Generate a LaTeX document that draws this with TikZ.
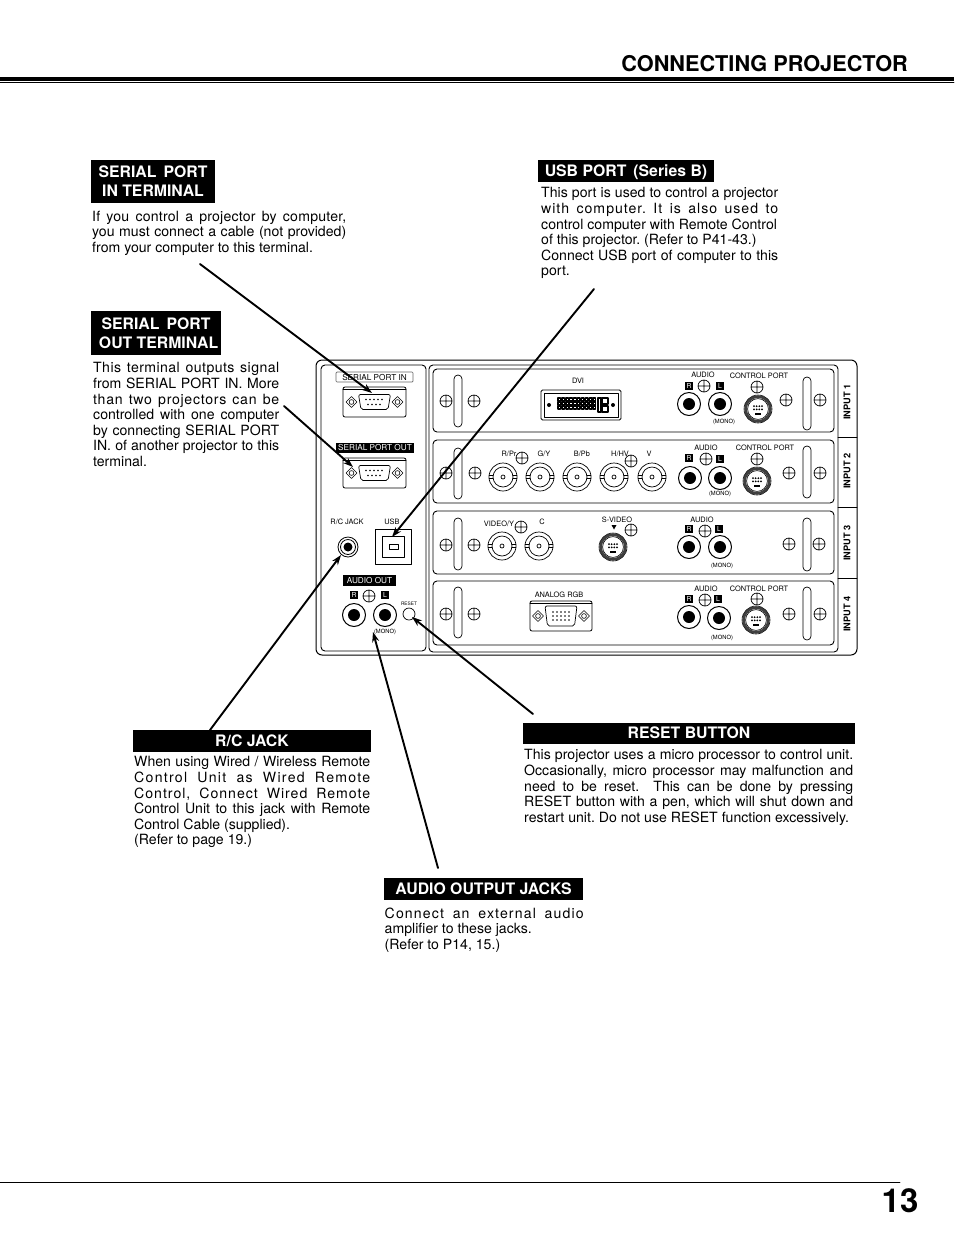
\documentclass[tikz,border=0pt]{standalone}
\usepackage{fontspec}
\setmainfont{TeX Gyre Heros}
\usetikzlibrary{arrows.meta}
\tolerance=10000
\frenchspacing
\newcommand{\spc}[2]{{\addfontfeature{LetterSpace=#1}#2}}
\newcommand{\fsize}[2]{\fontsize{#1}{#2}\selectfont}
\tikzset{
  tag/.style={fill=black,text=white,font=\bfseries\fsize{15.8}{19},align=center,inner sep=0pt},
  body/.style={anchor=north west,inner sep=0pt,font=\fsize{14.1}{15.6},align=justify},
  pointer/.style={line width=1.9pt,-{Stealth[length=10pt,width=7pt]}},
  small/.style={inner sep=0pt,font=\fsize{7.4}{8}},
  portlab/.style={inner sep=0pt,font=\fsize{8.2}{9}},
  tiny/.style={inner sep=0pt,font=\fsize{5.8}{6}},
  panel/.style={line width=0.9pt,rounded corners=4pt},
}
% panel parts, all in page pixels
\newcommand{\screw}[2]{\draw[line width=0.7pt] (#1,#2) circle (6) (#1-6,#2)--(#1+6,#2) (#1,#2-6)--(#1,#2+6);}
\newcommand{\slot}[4]{\draw[line width=0.7pt,rounded corners=3.9pt] (#1,#2) rectangle (#3,#4);}
\newcommand{\rca}[2]{\draw[line width=1pt] (#1,#2) circle (11.5); \fill (#1,#2) circle (6);}
\newcommand{\bnc}[2]{\draw[line width=0.7pt] (#1,#2) circle (14) (#1,#2) circle (10) (#1,#2) circle (2);
  \draw[line width=0.7pt] (#1-14,#2-1.5)--(#1-10,#2-1.5) (#1-14,#2+1.5)--(#1-10,#2+1.5) (#1+10,#2-1.5)--(#1+14,#2-1.5) (#1+10,#2+1.5)--(#1+14,#2+1.5);}
\newcommand{\din}[2]{\draw[line width=2.6pt,black!75] (#1,#2) circle (12.4);
  \draw[line width=0.6pt] (#1,#2) circle (14) (#1,#2) circle (10.4);
  \foreach \dx in {-4,-1.3,1.3,4}{\fill (#1+\dx,#2-2.8) circle (1) (#1+\dx,#2+0.4) circle (1);}
  \fill (#1-3,#2+3.8) rectangle (#1+3,#2+6);}
\newcommand{\dsub}[5]{% x0 y0 x1 y1 half height of shell
  \draw[line width=0.8pt,rounded corners=2pt] (#1,#2) rectangle (#3,#4);
  \draw[line width=0.7pt] (#1,#2+2.5)--(#3,#2+2.5);
  \draw[line width=0.7pt,rounded corners=2pt] ({(#1+#3)/2-16},{(#2+#4)/2-#5})--({(#1+#3)/2+16},{(#2+#4)/2-#5})--({(#1+#3)/2+13.5},{(#2+#4)/2+#5})--({(#1+#3)/2-13.5},{(#2+#4)/2+#5})--cycle;
  \foreach \sx in {-1,1}{
    \draw[line width=0.6pt] ({(#1+#3)/2+\sx*23},{(#2+#4)/2}) +(-5.5,0)--+(0,-5.5)--+(5.5,0)--+(0,5.5)--cycle;
    \draw[line width=0.6pt] ({(#1+#3)/2+\sx*23},{(#2+#4)/2}) circle (2.4);}}

\begin{document}
\begin{tikzpicture}[x=1pt,y=-1pt,line cap=round,line join=round]
\useasboundingbox (0,0) rectangle (954,1235);

% header and footer
\node[anchor=east,inner sep=0pt,font=\bfseries\fsize{21.7}{25}] (title) at (908,64) {CONNECTING PROJECTOR};
\fill (0,76.5) rectangle (954,80.5);
\draw[line width=0.7pt] (0,82.5)--(954,82.5);
\draw[line width=0.7pt] (0,1182)--(900,1182);
\node[inner sep=0pt,font=\bfseries\fsize{33}{35}] (pagenum) at (900,1201) {13};

% black headings
\node[tag,minimum width=124pt,minimum height=43pt] (serialin) at (153,181.5) {SERIAL\, PORT\\IN TERMINAL};
\node[tag,minimum width=176pt,minimum height=22pt,text height=11.5pt,text depth=0pt] (usbport) at (626,171) {USB PORT\, (Series B)};
\node[tag,minimum width=130pt,minimum height=44pt] (serialout) at (156,333) {SERIAL\, PORT\\\,\,OUT TERMINAL};
\node[tag,minimum width=238pt,minimum height=22pt] (rcjack) at (252,741) {R/C JACK};
\node[tag,minimum width=332pt,minimum height=21pt] (resetbtn) at (689,733) {RESET BUTTON};
\node[tag,minimum width=199pt,minimum height=22pt] (audiojacks) at (483.5,889) {AUDIO OUTPUT JACKS};

% texts
\node[body,text width=254pt] (serialintxt) at (92,210.7) {\spc{1.5}{If you control a projector by computer,}\linebreak you must connect a cable (not provided)\linebreak from your computer to this terminal.};
\node[body,text width=237pt] (usbtxt) at (541,187.5) {This port is used to control a projector\linebreak \spc{7}{with computer. It is also used to}\linebreak control computer with Remote Control\\of this projector. (Refer to P41-43.)\\Connect USB port of computer to this\linebreak port.};
\node[body,text width=186pt] (serialouttxt) at (93,362.5) {\spc{3}{This terminal outputs signal}\linebreak from SERIAL PORT IN. More\linebreak \spc{5}{than two projectors can be}\linebreak controlled with one computer\linebreak by connecting SERIAL PORT\linebreak IN. of another projector to this\linebreak terminal.};
\node[body,text width=236pt] (rctxt) at (134,756.5) {When using Wired / Wireless Remote\linebreak \spc{9}{Control Unit as Wired Remote}\linebreak \spc{7}{Control, Connect Wired Remote}\linebreak Control Unit to this jack with Remote\linebreak Control Cable (supplied).\\(Refer to page 19.)};
\node[body,text width=329pt] (resettxt) at (524,749.5) {This projector uses a micro processor to control unit.\linebreak Occasionally, micro processor may malfunction and\linebreak need to be reset. \ This can be done by pressing\linebreak RESET button with a pen, which will shut down and\linebreak restart unit. Do not use RESET function excessively.};
\node[body,text width=199pt] (audiotxt) at (384.5,907.5) {\spc{8}{Connect an external audio}\linebreak amplifier to these jacks.\\(Refer to P14, 15.)};

% projector outline
\draw[line width=1pt,rounded corners=6pt] (316,360) rectangle (857,655);
\draw[panel] (321,365) rectangle (426,651);
\draw[panel] (429,365) rectangle (838,652);
\foreach \ya/\yb in {369/432,440/503,511/574,581/645}{
  \draw[panel] (433,\ya) rectangle (834,\yb);
}
\foreach \yy in {437,507,578}{
  \draw[line width=0.9pt] (838,\yy)--(857,\yy);
}
\foreach \yy/\name [count=\i] in {402/1,471/2,543/3,614/4}{
  \node[inner sep=0pt,rotate=90,font=\bfseries\fsize{9.2}{10}] (input\i) at (847,\yy) {INPUT \name};
}

% slots and screws
\slot{454}{375}{462}{427} \slot{454}{448}{462}{499} \slot{454}{518}{462}{570} \slot{454}{587}{462}{638}
\slot{803}{377}{811}{430} \slot{803}{446}{811}{498} \slot{803}{518}{811}{571} \slot{803}{587}{811}{640}
\foreach \sa/\sb in {446/401,474/401,446/473,475/473,446/545,474/545,446/614,474/614,
  786/400,820/400,789/473,820/473,789/544,819/544,789/614,820/614,
  704/386,757/387,706/459,757/459,522/458,631/461,521/527,631/530,705/531,705/600,757/599,369/596}{
  \screw{\sa}{\sb}
}

% audio jacks
\foreach \sa/\sb in {689/404,720/404,690/478,720/478,689/547,720/547,689/617,719/618,354/615,385/615}{
  \rca{\sa}{\sb}
}
\foreach \sa/\sb/\mk [count=\i] in {689/386/R,720/386/L,689/458/R,720/459/L,689/529/R,719/529/L,689/599/R,718/599/L,354/595/R,385/595/L}{
  \node[fill=black,text=white,inner sep=0pt,minimum size=8.5pt,font=\fsize{6.8}{7}] (mk\i) at (\sa,\sb) {\mk};
}

% video connectors
\foreach \sa/\sb in {503/477,540/477,577/477,614/477,652/477,502/546,539/546}{
  \bnc{\sa}{\sb}
}
\din{758}{409} \din{757}{481} \din{756}{620} \din{613}{547}
\fill (611.5,525)--(616.5,525)--(614,529.5)--cycle;

% dvi
\draw[line width=0.8pt,rounded corners=1.5pt] (541,390) rectangle (621,420);
\draw[line width=0.6pt] (544,393) rectangle (618,417);
\fill (549,405) circle (2) (613,405) circle (2);
\foreach \col in {0,...,9}{
  \foreach \row in {0,1,2}{
    \draw[line width=1.4pt,line cap=butt] (558+\col*3.9,{398+\row*4}) rectangle +(2.6,2.8);
  }
}
\draw[line width=1.4pt,line cap=butt] (598,398) rectangle (601,412) (602,398) rectangle (608,404) (602,406) rectangle (608,412);

% serial and vga
\dsub{343}{387}{406}{417}{7.5} \dsub{343}{458}{406}{488}{7.5} \dsub{530}{601}{592}{631}{10}
\foreach \col in {0,...,4}{
  \fill (366+\col*4,399.5) circle (0.8) (366+\col*4,470.5) circle (0.8);
}
\foreach \col in {0,...,3}{
  \fill (368+\col*4,404.5) circle (0.8) (368+\col*4,475.5) circle (0.8);
}
\foreach \col in {0,...,4}{
  \fill (553+\col*4,612) circle (0.8) (553+\col*4,616) circle (0.8) (553+\col*4,620) circle (0.8);
}

% left side
\draw[line width=0.7pt,black!60,rounded corners=1pt] (336,372) rectangle (413,382);
\node[portlab] (portin) at (374.5,377.5) {SERIAL PORT IN};
\node[fill=black,text=white,minimum width=78pt,minimum height=10pt,portlab] (portout) at (375,448) {SERIAL PORT OUT};
\node[fill=black,text=white,minimum width=53pt,minimum height=11pt,portlab] (audioout) at (369.5,580.5) {AUDIO OUT};
\draw[line width=0.9pt] (375,529) rectangle (411,564) (382,536) rectangle (404,557) (389,544) rectangle (398,549);
\draw[line width=0.8pt] (348,547) circle (10) (348,547) circle (7.5);
\fill (348,547) circle (4.5);
\draw[line width=0.7pt] (409,614) circle (6);

% small labels
\foreach \sa/\sb/\lab [count=\i] in {347/521.5/{R/C JACK},392/521.5/USB,578/381/DVI,703/374.5/AUDIO,759/375.5/CONTROL PORT,
  509/454/{R/Pr},544/454/{G/Y},582/454/{B/Pb},620/454/{H/HV},649/454/V,706/447.5/AUDIO,765/447.5/CONTROL PORT,
  499/524/{VIDEO/Y},542/522/C,617/519.5/S-VIDEO,702/519.5/AUDIO,559/595/ANALOG RGB,706/589/AUDIO,759/589/CONTROL PORT}{
  \node[small] (lab\i) at (\sa,\sb) {\lab};
}
\foreach \sa/\sb [count=\i] in {724/422,720/494,722/566,722/638,385/632}{
  \node[tiny] (mono\i) at (\sa,\sb) {(MONO)};
}
\node[inner sep=0pt,font=\fsize{4.8}{5}] (resetlab) at (409,604) {RESET};

% pointers
\coordinate (inA) at (200,264);   \coordinate (inB) at (372,393);
\coordinate (outA) at (284,406);  \coordinate (outB) at (353,467);
\coordinate (usbA) at (594,289);  \coordinate (usbB) at (392,537);
\coordinate (rcA) at (210,730);   \coordinate (rcB) at (341,555);
\coordinate (monoA) at (438,868); \coordinate (monoB) at (373,632);
\coordinate (rstA) at (533,714);  \coordinate (rstB) at (412,617);
\foreach \a/\b in {inA/inB,outA/outB,usbA/usbB,rcA/rcB,monoA/monoB,rstA/rstB}{
  \draw[pointer] (\a)--(\b);
}
\end{tikzpicture}
\end{document}
